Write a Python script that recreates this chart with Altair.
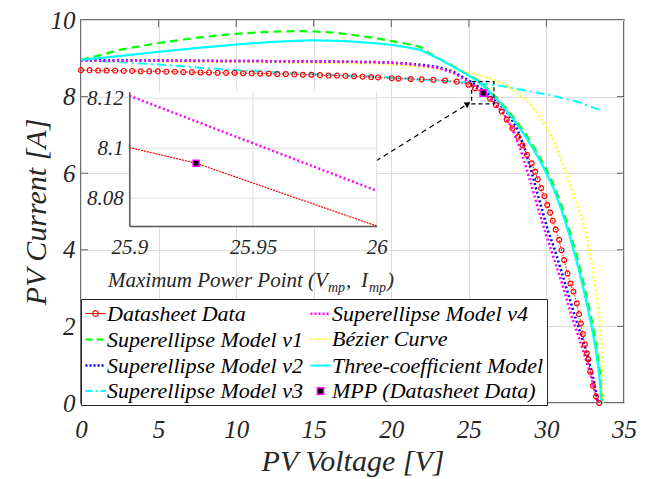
import altair as alt
import pandas as pd

# ---------------- data ----------------
ds_V = [0, 0.55, 1.1, 1.65, 2.2, 2.75, 3.3, 3.85, 4.4, 4.95, 5.5, 6.05, 6.6, 7.15, 7.7, 8.25,
        8.8, 9.35, 9.9, 10.45, 11.0, 11.55, 12.1, 12.65, 13.2, 13.75, 14.3, 14.85, 15.4, 15.95,
        16.5, 17.05, 17.6, 18.15, 18.7, 19.15, 20.03, 20.46, 21.25, 21.96, 22.71, 23.47, 24.22,
        24.97, 25.4, 25.927, 26.37, 26.75, 27.12, 27.44, 27.81, 28.17, 28.46, 28.75, 29.05, 29.27,
        29.44, 29.66, 29.87, 30.05, 30.24, 30.41, 30.6, 30.82, 30.97, 31.14, 31.36, 31.55, 31.74,
        31.96, 32.1, 32.22, 32.35, 32.47, 32.6, 32.7, 32.82, 33.0, 33.2, 33.4]
ds_I = [8.69, 8.69, 8.68, 8.68, 8.68, 8.67, 8.67, 8.66, 8.66, 8.66, 8.65, 8.65, 8.64, 8.64, 8.63, 8.63,
        8.62, 8.62, 8.62, 8.61, 8.61, 8.60, 8.60, 8.59, 8.59, 8.58, 8.57, 8.57, 8.56, 8.55,
        8.55, 8.54, 8.53, 8.52, 8.51, 8.50, 8.48, 8.47, 8.46, 8.45, 8.44, 8.42, 8.39,
        8.31, 8.218, 8.094, 7.942, 7.78, 7.61, 7.40, 7.17, 6.95, 6.73, 6.48, 6.26, 6.04,
        5.84, 5.61, 5.40, 5.17, 4.97, 4.76, 4.53, 4.26, 3.99, 3.73, 3.38, 3.12, 2.91,
        2.60, 2.32, 2.08, 1.80, 1.53, 1.30, 1.14, 0.82, 0.45, 0.17, 0.0]

v1_V = [0, 1, 2.5, 5, 7.5, 10, 12, 14, 15, 16, 17, 18, 19.1, 20, 21, 21.86, 22.5, 23.3, 24.0, 24.8,
        25.5, 26.2, 26.9, 27.5, 28.1, 28.7, 29.3, 29.9, 30.5, 31.0, 31.5, 32.0, 32.5, 32.9, 33.2, 33.45, 33.6]
v1_I = [8.96, 9.06, 9.22, 9.40, 9.54, 9.64, 9.69, 9.71, 9.70, 9.68, 9.64, 9.58, 9.52, 9.45, 9.38, 9.30,
        9.12, 8.94, 8.79, 8.61, 8.44, 8.21, 7.92, 7.64, 7.34, 7.00, 6.61, 6.17, 5.66, 5.12, 4.48, 3.77,
        2.95, 2.21, 1.55, 0.8, 0.0]

tc_V = [0, 1, 2.5, 5, 7.5, 10, 12, 14, 15, 16, 17, 18, 19.1, 20, 21, 21.86, 22.5, 23.14, 24.0, 24.8,
        25.5, 26.2, 26.9, 27.5, 28.1, 28.7, 29.3, 29.9, 30.5, 31.0, 31.5, 32.0, 32.5, 32.9, 33.2, 33.4, 33.55]
tc_I = [8.96, 9.00, 9.06, 9.17, 9.27, 9.36, 9.42, 9.46, 9.47, 9.46, 9.45, 9.42, 9.39, 9.35, 9.29, 9.22,
        9.10, 8.97, 8.78, 8.60, 8.42, 8.18, 7.88, 7.59, 7.28, 6.93, 6.53, 6.08, 5.56, 5.00, 4.35, 3.62,
        2.78, 2.02, 1.35, 0.75, 0.0]

v2_V = [0, 5, 10, 15, 19.1, 20.8, 22, 22.9, 24.0, 24.87, 25.5, 26.2, 26.84, 27.5, 28.1, 28.55, 29.0,
        29.4, 29.75, 30.1, 30.55, 31.2, 31.85, 32.55, 33.0, 33.33]
v2_I = [8.95, 8.94, 8.93, 8.92, 8.90, 8.87, 8.83, 8.78, 8.65, 8.45, 8.29, 8.09, 7.87, 7.57, 7.17, 6.70,
        6.10, 5.50, 5.00, 4.50, 3.99, 3.12, 2.25, 1.38, 0.70, 0.0]

v4_V = [0, 5, 10, 15, 19.1, 21, 22.9, 24.0, 25.18, 25.9, 26.0, 26.6, 27.22, 27.75, 28.3, 28.75, 29.2,
        29.7, 30.2, 30.7, 31.1, 31.63, 32.1, 32.4, 32.9, 33.3]
v4_I = [8.94, 8.935, 8.93, 8.92, 8.90, 8.86, 8.76, 8.62, 8.33, 8.121, 8.083, 7.85, 7.56, 7.20, 6.65,
        6.08, 5.45, 4.75, 4.12, 3.50, 3.00, 2.25, 1.70, 1.32, 0.68, 0.0]

v3_V = [0, 2.5, 5, 7.5, 10, 12.5, 15, 17, 19, 21, 23, 25, 26.8, 28.5, 30.23, 31.96, 33.46]
v3_I = [8.96, 8.90, 8.84, 8.76, 8.69, 8.64, 8.59, 8.55, 8.52, 8.47, 8.42, 8.36, 8.30, 8.17, 8.04, 7.87, 7.65]

bz_V = [0, 5, 10, 15, 19.1, 21.86, 24.2, 25.07, 26.37, 27.44, 28.6, 29.37, 30.02, 30.45, 31.1, 31.96,
        32.49, 32.8, 33.14, 33.42, 33.57, 33.63]
bz_I = [8.93, 8.92, 8.90, 8.88, 8.86, 8.78, 8.68, 8.62, 8.48, 8.30, 7.95, 7.60, 7.17, 6.87, 6.20, 5.20,
        4.55, 3.95, 3.05, 2.25, 1.38, 0.0]

mpp_V = [25.927]
mpp_I = [8.094]

inset_red_V = [25.9, 25.927, 26.0]
inset_red_I = [8.1003, 8.094, 8.0689]
inset_mag_V = [25.9, 26.0]
inset_mag_I = [8.121, 8.083]

box_V = [25.18, 26.62]
box_I = [7.81, 8.39]
arrow_V = [19.01, 24.94]
arrow_I = [6.32, 7.81]

X_TICKS = [0, 5, 10, 15, 20, 25, 30, 35]
Y_TICKS = [0, 2, 4, 6, 8, 10]
INSET_X_DOMAIN = [25.9, 26.0]
INSET_Y_DOMAIN = [8.0689, 8.1226]
INSET_X_TICKS = [25.9, 25.95, 26.0]
INSET_Y_TICKS = [8.08, 8.10, 8.12]

LEG_ORDER = ["Datasheet Data", "Superellipse Model v1", "Superellipse Model v2", "Superellipse Model v3",
             "Superellipse Model v4", "Bézier Curve", "Three-coefficient Model",
             "MPP (Datasheet Data)"]
# ---------------------------------------------------------------

FONT = "Times New Roman, Liberation Serif, serif"
AX = "#262626"
GRID = "#dddddd"
W, H = 543, 383
TICK = 7


def df(v, i):
    return pd.DataFrame({"V": v, "I": i})


xs = alt.Scale(domain=[0, 35], nice=False, zero=False)
ys = alt.Scale(domain=[0, 10], nice=False, zero=False)

x_axis = alt.Axis(values=X_TICKS, format="d", grid=True, gridColor=GRID, gridWidth=1,
                  ticks=False, tickSize=0, domain=False, labelFont=FONT, labelFontStyle="italic",
                  labelFontSize=25, labelColor=AX, labelPadding=14, labelFlush=False,
                  title="PV Voltage [V]", titleFont=FONT, titleFontStyle="italic",
                  titleFontWeight="normal", titleFontSize=30, titleColor=AX,
                  titleX=W / 2, titleY=67, titleBaseline="alphabetic", titleAlign="center")
y_axis = alt.Axis(values=Y_TICKS, format="d", grid=True, gridColor=GRID, gridWidth=1,
                  ticks=False, tickSize=0, domain=False, labelFont=FONT, labelFontStyle="italic",
                  labelFontSize=25, labelColor=AX, labelPadding=6, labelFlush=False,
                  title="PV Current [A]", titleFont=FONT, titleFontStyle="italic",
                  titleFontWeight="normal", titleFontSize=30, titleColor=AX,
                  titleX=-36, titleY=H / 2, titleAngle=-90, titleBaseline="alphabetic",
                  titleAlign="center")

X = alt.X("V:Q")
Y = alt.Y("I:Q")


def curve(v, i, color, dash, width):
    return alt.Chart(df(v, i)).mark_line(color=color, strokeDash=dash, strokeWidth=width).encode(x=X, y=Y)


l_v3 = alt.Chart(df(v3_V, v3_I)).mark_line(color="#00FFFF", strokeDash=[9, 4, 2, 4], strokeWidth=2).encode(
    x=alt.X("V:Q", scale=xs, axis=x_axis), y=alt.Y("I:Q", scale=ys, axis=y_axis))
l_v1 = curve(v1_V, v1_I, "#00FF00", [8, 5], 2.2)
l_bz = curve(bz_V, bz_I, "#FFFF00", [2, 2.5], 2)
l_v2 = curve(v2_V, v2_I, "#0000FF", [2, 2.5], 2.5)
l_v4 = curve(v4_V, v4_I, "#FF00FF", [2, 2.5], 2.5)
l_tc = curve(tc_V, tc_I, "#00FFFF", [1, 0], 2.2)
l_ds = curve(ds_V, ds_I, "#FF0000", [1.5, 1.5], 1)
p_ds = alt.Chart(df(ds_V, ds_I)).mark_point(shape="circle", filled=False, color="#FF0000", size=24,
                                            strokeWidth=1.2, opacity=1).encode(x=X, y=Y)

# inward axis ticks (MATLAB box style)
xt = pd.DataFrame({"V": X_TICKS[1:-1]})
yt = pd.DataFrame({"I": Y_TICKS[1:-1]})
t_top = alt.Chart(xt).mark_tick(orient="vertical", size=TICK, thickness=1, color=AX).encode(
    x="V:Q", y=alt.value(TICK / 2))
t_bot = alt.Chart(xt).mark_tick(orient="vertical", size=TICK, thickness=1, color=AX).encode(
    x="V:Q", y=alt.value(H - TICK / 2))
t_lft = alt.Chart(yt).mark_tick(orient="horizontal", size=TICK, thickness=1, color=AX).encode(
    y="I:Q", x=alt.value(TICK / 2))
t_rgt = alt.Chart(yt).mark_tick(orient="horizontal", size=TICK, thickness=1, color=AX).encode(
    y="I:Q", x=alt.value(W - TICK / 2))

arrow = alt.Chart(df(arrow_V, arrow_I)).mark_line(color="black", strokeDash=[5, 4], strokeWidth=1.2).encode(x=X, y=Y)
arrow_head = alt.Chart(df(arrow_V[-1:], arrow_I[-1:])).mark_point(
    shape="triangle-up", filled=True, color="black", size=45, angle=58, opacity=1).encode(x=X, y=Y)
box = alt.Chart(pd.DataFrame({"V": [box_V[0]], "V2": [box_V[1]], "I": [box_I[0]], "I2": [box_I[1]]})).mark_rect(
    filled=False, color="black", strokeDash=[4, 3], strokeWidth=1.2).encode(x=X, x2="V2", y=Y, y2="I2")

# legend-carrying layer: the MPP marker
DS_PATH = "M-1,0H1M0.28,0A0.28,0.28,0,1,1,-0.28,0A0.28,0.28,0,1,1,0.28,0"
LEG_STROKE = ["#FF0000", "#00FF00", "#0000FF", "#00FFFF", "#FF00FF", "#FFFF00", "#00FFFF", "#FF00FF"]
LEG_FILL = ["transparent"] * 7 + ["black"]
LEG_SHAPE = [DS_PATH, "stroke", "stroke", "stroke", "stroke", "stroke", "stroke", "square"]
LEG_SIZE = [400] * 7 + [40]
LEG_DASH = [[1, 0], [7, 4], [2, 2], [7, 3, 2, 3], [2, 2], [2, 2], [1, 0], [1, 0]]
LEG_SW = [1.2, 2.2, 2.5, 2, 2.5, 2, 2.2, 1.5]

leg = alt.Legend(title=None, orient="none", legendX=0, legendY=279, columns=2, columnPadding=2,
                 rowPadding=3, padding=3, labelFont=FONT, labelFontStyle="italic", labelFontSize=22,
                 labelColor="black", labelOffset=0, labelLimit=400, strokeColor=AX, fillColor="white",
                 cornerRadius=0)

mpp_df = pd.DataFrame({"V": mpp_V, "I": mpp_I, "series": ["MPP (Datasheet Data)"]})
p_mpp = alt.Chart(mpp_df).mark_point(opacity=1).encode(
    x=X, y=Y,
    stroke=alt.Stroke("series:N", scale=alt.Scale(domain=LEG_ORDER, range=LEG_STROKE), legend=leg),
    fill=alt.Fill("series:N", scale=alt.Scale(domain=LEG_ORDER, range=LEG_FILL), legend=leg),
    shape=alt.Shape("series:N", scale=alt.Scale(domain=LEG_ORDER, range=LEG_SHAPE), legend=leg),
    size=alt.Size("series:N", scale=alt.Scale(type="ordinal", domain=LEG_ORDER, range=LEG_SIZE), legend=leg),
    strokeDash=alt.StrokeDash("series:N", scale=alt.Scale(domain=LEG_ORDER, range=LEG_DASH), legend=leg),
    strokeWidth=alt.StrokeWidth("series:N", scale=alt.Scale(type="ordinal", domain=LEG_ORDER, range=LEG_SW), legend=leg),
)

main = alt.layer(l_v3, t_top, t_bot, t_lft, t_rgt, l_v1, l_bz, l_v2, l_v4, l_tc, l_ds, p_ds,
                 arrow, arrow_head, box, p_mpp)

# ---------------- inset ----------------
ixs = alt.Scale(domain=INSET_X_DOMAIN, range=[48.3, 295.7], nice=False, zero=False)
iys = alt.Scale(domain=INSET_Y_DOMAIN, range=[206, 71.7], nice=False, zero=False)
ix_axis = alt.Axis(orient="bottom", offset=-(H - 206), values=INSET_X_TICKS, format="~g", grid=False,
                   ticks=False, tickSize=0, domain=True, domainColor="#555555", domainWidth=1.5,
                   labelFont=FONT, labelFontStyle="italic", labelFontSize=21, labelColor=AX,
                   labelPadding=10, labelFlush=False, title=None, zindex=1)
iy_axis = alt.Axis(orient="left", offset=-48.3, values=INSET_Y_TICKS, format="~g", grid=False,
                   ticks=False, tickSize=0, domain=True, domainColor="#555555", domainWidth=1.5,
                   labelFont=FONT, labelFontStyle="italic", labelFontSize=21, labelColor=AX,
                   labelPadding=6, labelFlush=False, title=None, zindex=1)

ibg = alt.Chart(pd.DataFrame({"V": [INSET_X_DOMAIN[0]], "V2": [INSET_X_DOMAIN[1]],
                              "I": [INSET_Y_DOMAIN[0]], "I2": [INSET_Y_DOMAIN[1]]})).mark_rect(
    color="white").encode(x=alt.X("V:Q", scale=ixs, axis=ix_axis), x2="V2",
                          y=alt.Y("I:Q", scale=iys, axis=iy_axis), y2="I2")
igx = alt.Chart(pd.DataFrame({"V": INSET_X_TICKS})).mark_rule(color=GRID, strokeWidth=1).encode(
    x="V:Q", y=alt.datum(INSET_Y_DOMAIN[0]), y2=alt.datum(INSET_Y_DOMAIN[1]))
igy = alt.Chart(pd.DataFrame({"I": INSET_Y_TICKS})).mark_rule(color=GRID, strokeWidth=1).encode(
    y="I:Q", x=alt.datum(INSET_X_DOMAIN[0]), x2=alt.datum(INSET_X_DOMAIN[1]))
imag = alt.Chart(df(inset_mag_V, inset_mag_I)).mark_line(color="#FF00FF", strokeDash=[2, 2.5], strokeWidth=2.5).encode(x=X, y=Y)
ired = alt.Chart(df(inset_red_V, inset_red_I)).mark_line(color="#FF0000", strokeDash=[2, 1], strokeWidth=1.2).encode(x=X, y=Y)
impp = alt.Chart(df(mpp_V, mpp_I)).mark_point(shape="square", filled=True, fill="black", stroke="#FF00FF",
                                              strokeWidth=1.5, size=36, opacity=1).encode(x=X, y=Y)


def label(txt, dx, dy, size):
    return alt.Chart(pd.DataFrame({"t": [txt]})).mark_text(
        align="left", baseline="alphabetic", dx=dx, dy=dy, font=FONT, fontStyle="italic",
        fontSize=size, color=AX).encode(x=alt.datum(INSET_X_DOMAIN[0]), y=alt.datum(INSET_Y_DOMAIN[0]), text="t:N")


ilab = [label("Maximum Power Point (V", -21.3, 61, 21), label("mp", 198.7, 66, 14),
        label(",", 216.7, 61, 21), label("I", 231.7, 61, 21), label("mp", 239.7, 66, 14),
        label(")", 257.7, 61, 21)]

inset = alt.layer(ibg, igx, igy, imag, ired, impp, *ilab)

chart = alt.layer(main, inset).resolve_scale(x="independent", y="independent").properties(
    width=W, height=H, autosize=alt.AutoSizeParams(type="none"),
    padding={"left": 81, "top": 20, "right": 26, "bottom": 76},
    background="white",
).configure_view(stroke="#404040", strokeWidth=1.5)

chart.save("out.html", embed_options={"renderer": "svg", "actions": False})
